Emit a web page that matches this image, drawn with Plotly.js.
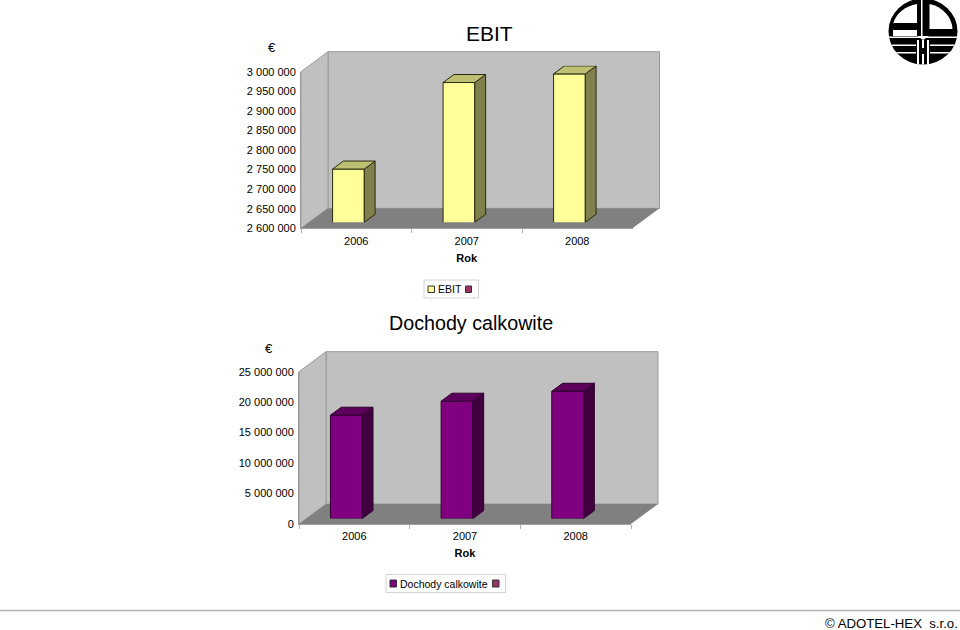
<!DOCTYPE html>
<html>
<head>
<meta charset="utf-8">
<script src="https://cdn.plot.ly/plotly-3.0.1.min.js"></script>
<style>
	html, body { margin: 0; padding: 0; background: #fff; }
	#chart { width: 960px; height: 630px; }
</style>
</head>
<body>
<div id="chart"></div>
<script>
(function () {

	'use strict';

	const W = 960;
	const H = 630;
	const FONT = '"Liberation Sans", Arial, sans-serif';

	// data
	const years = [2006, 2007, 2008];
	const yearLabels = ['2006', '2007', '2008'];
	const ebitValues = [2736000, 2957000, 2979000];
	const dochodyValues = [16970000, 19270000, 20900000];

	// pixel frame of each 3D box (front plane + how far the bars sit in it)
	const ebitFrame = {
		left: 301, right: 632.5, top: 71.7, bottom: 228.3,
		range: [2600000, 3000000], dtick: 50000,
		barShiftX: -7.8, barShiftY: 6
	};
	const dochodyFrame = {
		left: 299, right: 631, top: 371.7, bottom: 524,
		range: [0, 25000000], dtick: 5000000,
		barShiftX: -8, barShiftY: 5.4
	};

	const WALL_DX = 27;
	const WALL_DY = 20;
	const BAR_WIDTH = 0.287; // in category units
	const BAR_DX = 10.8;
	const BAR_DY = 8;

	const xDomain = (a, b) => [a / W, b / W];
	const yDomain = (top, bottom) => [1 - bottom / H, 1 - top / H];

	const poly = (pts) => 'M' + pts.map(p => (p[0] / W) + ',' + (1 - p[1] / H)).join('L') + 'Z';

	/**
	* side and top faces of the bars, in data units of the bar axes
	*/
	const barFaces = (values, frame, xa, ya, sideColor, topColor, lineColor) => {
		const pxX = (years.length) / (frame.right - frame.left);
		const pxY = (frame.range[1] - frame.range[0]) / (frame.bottom - frame.top);
		const dx = BAR_DX * pxX;
		const dy = BAR_DY * pxY;
		const half = BAR_WIDTH / 2;
		const traces = [];

		years.forEach((yr, i) => {
			const v = values[i];
			const base = frame.range[0];
			const common = {
				xaxis: xa, yaxis: ya, type: 'scatter', mode: 'lines', fill: 'toself',
				line: { color: lineColor, width: 1 }, hoverinfo: 'skip', showlegend: false, cliponaxis: false
			};
			traces.push(Object.assign({}, common, {
				x: [yr + half, yr + half + dx, yr + half + dx, yr + half, yr + half],
				y: [base, base + dy, v + dy, v, base],
				fillcolor: sideColor
			}));
			traces.push(Object.assign({}, common, {
				x: [yr - half, yr - half + dx, yr + half + dx, yr + half, yr - half],
				y: [v, v + dy, v + dy, v, v],
				fillcolor: topColor
			}));
		});
		return traces;
	};

	/**
	* walls and floor behind the bars
	*/
	const wallShapes = (f) => {
		const line = { color: '#9a9a9a', width: 1 };
		const noLine = { width: 0 };
		const bl = f.left + WALL_DX;
		const br = f.right + WALL_DX;
		const bt = f.top - WALL_DY;
		const bb = f.bottom - WALL_DY;
		const shape = (path, fill, l) => ({
			type: 'path', xref: 'paper', yref: 'paper', layer: 'below',
			path, fillcolor: fill, line: l
		});
		return [
			shape(poly([[bl, bt], [br, bt], [br, bb], [bl, bb]]), '#c0c0c0', line),
			shape(poly([[f.left, f.top], [bl, bt], [bl, bb], [f.left, f.bottom]]), '#c0c0c0', line),
			shape(poly([[f.left, f.bottom], [bl, bb], [br, bb], [f.right, f.bottom]]), '#808080', noLine)
		];
	};

	/**
	* visible axes (labels) and hidden axes (bars, pushed into the box)
	*/
	const labelAxes = (f, yAnchor, xAnchor) => ({
		x: {
			domain: xDomain(f.left, f.right), anchor: yAnchor, type: 'category',
			categoryorder: 'array', categoryarray: yearLabels, range: [-0.5, 2.5],
			tickson: 'boundaries', ticks: 'outside', ticklen: 4, tickcolor: '#b0b0b0', tickwidth: 1,
			showline: true, linecolor: '#a0a0a0', linewidth: 1, showgrid: false, zeroline: false,
			ticklabelstandoff: 2,
			tickfont: { family: FONT, size: 11, color: '#000' },
			title: { text: '<b>Rok</b>', standoff: 8, font: { family: FONT, size: 11, color: '#000' } }
		},
		y: {
			domain: yDomain(f.top, f.bottom), anchor: xAnchor, range: f.range, dtick: f.dtick,
			tickformat: ',d', ticks: '', showline: true, linecolor: '#9a9a9a', linewidth: 1,
			showgrid: false, zeroline: false, ticklabelstandoff: 2,
			tickfont: { family: FONT, size: 11, color: '#000' }
		}
	});

	const barAxes = (f, yAnchor, xAnchor) => ({
		x: {
			domain: xDomain(f.left + f.barShiftX, f.right + f.barShiftX), anchor: yAnchor,
			range: [years[0] - 0.5, years[2] + 0.5], visible: false
		},
		y: {
			domain: yDomain(f.top - f.barShiftY, f.bottom - f.barShiftY), anchor: xAnchor,
			range: f.range, visible: false
		}
	});

	const ebitLabels = labelAxes(ebitFrame, 'y', 'x');
	const ebitBars = barAxes(ebitFrame, 'y2', 'x2');
	const dochodyLabels = labelAxes(dochodyFrame, 'y3', 'x3');
	const dochodyBars = barAxes(dochodyFrame, 'y4', 'x4');

	// the label axes need a trace to get their categories
	const labelTrace = (values, xa, ya) => ({
		x: yearLabels, y: values, xaxis: xa, yaxis: ya, type: 'scatter', mode: 'markers',
		marker: { opacity: 0 }, hoverinfo: 'skip', showlegend: false
	});

	const barTrace = (values, name, xa, ya, color, lineColor) => ({
		x: years, y: values, name, xaxis: xa, yaxis: ya, type: 'bar', width: BAR_WIDTH,
		marker: { color, line: { color: lineColor, width: 1 } },
		hovertemplate: '%{x}: %{y:,d} €<extra></extra>', showlegend: false
	});

	const data = [
		labelTrace(ebitValues, 'x', 'y'),
		barTrace(ebitValues, 'EBIT', 'x2', 'y2', '#ffff99', '#2b2b10'),
		...barFaces(ebitValues, ebitFrame, 'x2', 'y2', '#80804d', '#bfbf73', '#2b2b10'),
		labelTrace(dochodyValues, 'x3', 'y3'),
		barTrace(dochodyValues, 'Dochody calkowite', 'x4', 'y4', '#800080', '#300030'),
		...barFaces(dochodyValues, dochodyFrame, 'x4', 'y4', '#400040', '#5c005c', '#300030')
	];

	/**
	* small text + legend pieces
	*/
	const text = (str, x, y, size, anchor = 'center') => ({
		text: str, xref: 'paper', yref: 'paper', x: x / W, y: 1 - y / H,
		xanchor: anchor, yanchor: 'middle', showarrow: false,
		font: { family: FONT, size, color: '#000' }
	});

	const rect = (x0, y0, x1, y1, fill, lineColor) => ({
		type: 'rect', xref: 'paper', yref: 'paper', layer: 'above',
		x0: x0 / W, x1: x1 / W, y0: 1 - y0 / H, y1: 1 - y1 / H,
		fillcolor: fill, line: { color: lineColor, width: 1 }
	});

	const annotations = [
		text('EBIT', 490, 33.5, 21),
		text('€', 272, 48, 13),
		text('EBIT', 435.5, 289, 10.5, 'left'),
		text('Dochody calkowite', 471, 323, 19.7),
		text('€', 269, 348, 13),
		text('Dochody calkowite', 398, 583.5, 10.5, 'left'),
		text('© ADOTEL-HEX\u00a0\u00a0s.r.o.', 960, 623, 13.2, 'right')
	];

	const shapes = [
		...wallShapes(ebitFrame),
		...wallShapes(dochodyFrame),
		// legends
		rect(424, 280, 478.5, 298, '#ffffff', '#d4d4d4'),
		rect(428, 286, 434.5, 292.5, '#ffff99', '#333'),
		rect(465.5, 286, 471.5, 292.5, '#993366', '#333'),
		rect(386, 574.5, 505.5, 592.5, '#ffffff', '#d4d4d4'),
		rect(390, 580, 396.5, 587, '#800080', '#333'),
		rect(492.5, 580, 499, 587, '#993366', '#333'),
		// footer line
		{
			type: 'line', xref: 'paper', yref: 'paper', layer: 'above',
			x0: 0, x1: 1, y0: 1 - 610.5 / H, y1: 1 - 610.5 / H,
			line: { color: '#b4b4b4', width: 1.5 }
		}
	];

	// ADOTEL-HEX logo, top right
	const logoSvg = `<svg xmlns="http://www.w3.org/2000/svg" viewBox="888 0 70 66" width="70" height="66">
		<defs><clipPath id="c"><ellipse cx="923" cy="31.5" rx="34.5" ry="33"/></clipPath></defs>
		<g clip-path="url(#c)">
			<rect x="888" y="0" width="70" height="66" fill="#000"/>
			<path d="M893 24 A30 27 0 0 1 917 4 V23 H893 Z" fill="#fff"/>
			<path d="M929.5 4 A30 27 0 0 1 952.5 29 H929.5 Z" fill="#fff"/>
			<rect x="893" y="30" width="24" height="6" fill="#fff"/>
			<rect x="921" y="0" width="1.5" height="38" fill="#fff"/>
			<path d="M917 36 H929 L923 40 Z" fill="#fff"/>
			<rect x="888" y="36.5" width="70" height="1.5" fill="#fff"/>
			<rect x="888" y="44.5" width="28" height="1.5" fill="#fff"/>
			<rect x="930" y="44.5" width="28" height="1.5" fill="#fff"/>
			<rect x="888" y="52" width="28" height="1.5" fill="#fff"/>
			<rect x="930" y="52" width="28" height="1.5" fill="#fff"/>
			<rect x="917" y="40" width="2" height="26" fill="#fff"/>
			<rect x="927" y="40" width="2" height="26" fill="#fff"/>
			<rect x="922" y="40" width="2" height="8" fill="#fff"/>
			<rect x="922" y="54" width="2" height="12" fill="#fff"/>
		</g>
	</svg>`;

	const layout = {
		width: W,
		height: H,
		margin: { l: 0, r: 0, t: 0, b: 0 },
		showlegend: false,
		separators: '. ',
		paper_bgcolor: '#ffffff',
		plot_bgcolor: 'rgba(0,0,0,0)',
		font: { family: FONT, color: '#000' },
		xaxis: ebitLabels.x,
		yaxis: ebitLabels.y,
		xaxis2: ebitBars.x,
		yaxis2: ebitBars.y,
		xaxis3: dochodyLabels.x,
		yaxis3: dochodyLabels.y,
		xaxis4: dochodyBars.x,
		yaxis4: dochodyBars.y,
		shapes,
		annotations,
		images: [{
			source: 'data:image/svg+xml,' + encodeURIComponent(logoSvg),
			xref: 'paper', yref: 'paper', x: 888 / W, y: 1, sizex: 70 / W, sizey: 66 / H,
			xanchor: 'left', yanchor: 'top', sizing: 'stretch', layer: 'above'
		}]
	};

	Plotly.newPlot('chart', data, layout, { displayModeBar: false });

})();
</script>
</body>
</html>
